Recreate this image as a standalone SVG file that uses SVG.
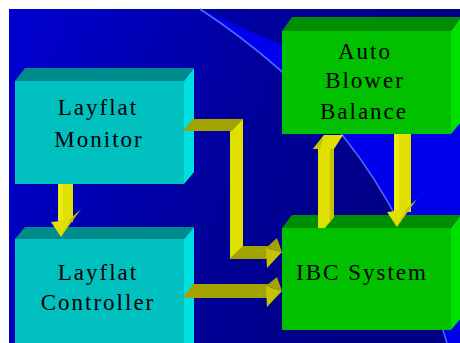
<svg xmlns="http://www.w3.org/2000/svg" width="460" height="343" viewBox="0 0 460 343">
  <defs>
    <linearGradient id="bg" x1="0" y1="0" x2="1" y2="0.3">
      <stop offset="0" stop-color="#0000D2"/>
      <stop offset="0.55" stop-color="#00009C"/>
      <stop offset="1" stop-color="#000082"/>
    </linearGradient>
    <style>
      .lbl { font-family: "Liberation Serif", "Times New Roman", serif; font-size: 23px; letter-spacing: 2px; fill: #000; text-anchor: middle; }
      .cf { fill: #00C0C0; } .ct { fill: #008C8C; } .cs { fill: #00E0E0; }
      .gf { fill: #00C000; } .gt { fill: #008E00; } .gs { fill: #00E000; }
      .ay { fill: #E0E000; } .al { fill: #ECEC10; } .ad { fill: #C4C400; } .ao { fill: #A2A200; }
    </style>
  </defs>

  <!-- background -->
  <rect x="0" y="0" width="460" height="343" fill="#FFFFFF"/>
  <rect x="9" y="9" width="451" height="334" fill="url(#bg)"/>
  <path d="M200,9 L460,123 L460,343 L447,343 C395,165 300,75 200,9 Z" fill="#0000EC"/>
  <path d="M200,9 C300,75 395,165 447,343" fill="none" stroke="#4A6CFF" stroke-width="1.5"/>

  <g id="layflat-monitor">
    <rect class="cf" x="15" y="81" width="169" height="103"/>
    <polygon class="ct" points="15,81 25,68 194,68 184,81"/>
    <polygon class="cs" points="184,81 194,68 194,172 184,184"/>
    <text class="lbl" x="98" y="115">Layflat</text>
    <text class="lbl" x="99" y="147">Monitor</text>
  </g>

  <g id="layflat-controller">
    <rect class="cf" x="15" y="239" width="169" height="104"/>
    <polygon class="ct" points="15,239 25,227 194,227 184,239"/>
    <polygon class="cs" points="184,239 194,227 194,343 184,343"/>
    <text class="lbl" x="98" y="280">Layflat</text>
    <text class="lbl" x="98" y="310">Controller</text>
  </g>

  <g id="auto-blower-balance">
    <rect class="gf" x="282" y="31" width="169" height="103"/>
    <polygon class="gt" points="282,31 292,17 461,17 451,31"/>
    <polygon class="gs" points="451,31 461,17 461,122 451,134"/>
    <text class="lbl" x="365" y="59">Auto</text>
    <text class="lbl" x="365" y="88">Blower</text>
    <text class="lbl" x="364" y="119">Balance</text>
  </g>

  <g id="ibc-system">
    <rect class="gf" x="282" y="228" width="169" height="102"/>
    <polygon class="gt" points="282,228 292,215 461,215 451,228"/>
    <polygon class="gs" points="451,228 461,215 461,318 451,330"/>
    <text class="lbl" x="362" y="280">IBC System</text>
  </g>

  <g id="connectors">
    <!-- Monitor -> Controller -->
    <g id="arrow-monitor-controller">
      <rect class="ay" x="58" y="184" width="15" height="38"/>
      <rect class="al" x="58" y="184" width="5" height="36"/>
      <polygon class="ad" points="69,220 81,209 61,237"/>
      <polygon class="ay" points="51,222 70,220 61,237"/>
    </g>

    <!-- Monitor -> IBC (elbow) -->
    <g id="arrow-monitor-ibc">
      <rect class="ay" x="230" y="119" width="13" height="140"/>
      <polygon class="ao" points="183,131 193,119 243,119 232,131"/>
      <polygon class="ao" points="229,259 243,246 268,246 268,259"/>
      <polygon class="ao" points="266,248 277,238 282,252"/>
      <polygon class="ad" points="266,248 282,252 267,268"/>
    </g>

    <!-- Controller -> IBC -->
    <g id="arrow-controller-ibc">
      <polygon class="ao" points="183,298 193,284 268,284 268,298"/>
      <polygon class="ao" points="266,286 277,277 282,291"/>
      <polygon class="ad" points="266,286 282,291 267,307"/>
    </g>

    <!-- IBC -> Auto Blower Balance -->
    <g id="arrow-ibc-auto">
      <polygon class="ay" points="318,148 334,148 334,217 325,228 318,228"/>
      <polygon class="ad" points="330,148 334,148 334,217 330,222"/>
      <polygon class="ay" points="313,149 324,135 343,135 334,149"/>
      <polygon class="ad" points="313,149 324,135 320,149"/>
    </g>

    <!-- Auto Blower Balance -> IBC -->
    <g id="arrow-auto-ibc">
      <rect class="ay" x="394" y="134" width="17" height="78"/>
      <rect class="al" x="394" y="134" width="5" height="76"/>
      <polygon class="ad" points="405,210 417,199 397,227"/>
      <polygon class="ay" points="387,212 406,210 397,227"/>
    </g>
  </g>
</svg>
